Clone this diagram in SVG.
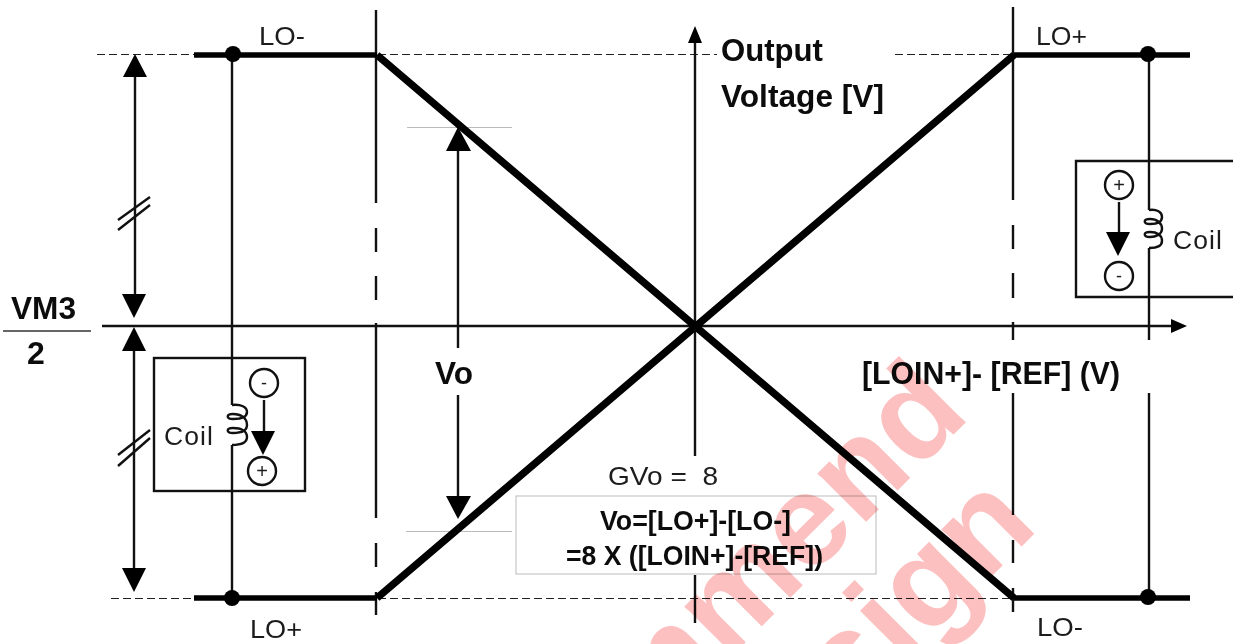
<svg xmlns="http://www.w3.org/2000/svg" width="1233" height="644" viewBox="0 0 1233 644">
<style>
text{font-family:"Liberation Sans",Arial,sans-serif;fill:#1c1c1c}
.b{font-weight:bold;fill:#0c0c0c}
.r{font-size:26.5px}
.l{fill:none;stroke:#111;stroke-width:2.4}
.t{fill:none;stroke:#000;stroke-width:5.5}
.x{fill:none;stroke:#000;stroke-width:7.5}
.d{fill:none;stroke:#222;stroke-width:1;stroke-dasharray:8 4}
.g{fill:none;stroke:#bbb;stroke-width:1}
.h{fill:#000;stroke:none}
.wm{font-family:"Liberation Sans",Arial,sans-serif;font-weight:bold;font-size:130px;fill:#fdc0c0}
</style>
<rect width="1233" height="644" fill="#fff"/>
<g id="guides">
<path class="d" d="M97 54.500H195M378 54.500H717M895 54.500H1013M111 598.500H194M378 598.500H1014"/>
<path class="g" d="M407 127.500H512M406 531.500H512"/>
</g>
<g id="axes">
<path class="l" d="M102 326H1175M695 40V456M695 575V623"/>
<path class="h" d="M1187 326L1171 319V333ZM695 26L688 43H702Z"/>
</g>
<g id="markers">
<path class="l" d="M376 10V203M376 228V252M376 276V300M376 323V518M376 543V567M376 592V615"/>
<path class="l" d="M1013 7V200M1013 225V249M1013 273V298M1013 322V340M1013 393V515M1013 540V563M1013 588V612"/>
<path class="l" d="M232 54V405M232 445V598M1149 54V210M1149 248V340M1149 393V598"/>
</g>
<g id="transfer-lines">
<path class="t" d="M194 55H377M1014 55H1190M194 598H377M1014 598H1190"/>
<path class="x" d="M377 55L1014 598M377 598L1014 55"/>
<circle class="h" cx="233" cy="54" r="8"/>
<circle class="h" cx="232" cy="598" r="8"/>
<circle class="h" cx="1148" cy="54" r="8"/>
<circle class="h" cx="1148" cy="597" r="8"/>
</g>
<g id="span-arrows">
<path class="l" d="M135 70V300M134 345V575"/>
<path class="h" d="M135 54L123 77H147ZM134 318L122 294H146ZM134 327L122 351H146ZM134 592L122 568H146Z"/>
<path class="l" d="M118 220L150 197M118 230L150 205M118 455L150 430M118 466L150 438"/>
<path class="l" d="M458 145V348M458 395V500"/>
<path class="h" d="M458 127L446 151H471ZM458 519L446 496H471Z"/>
</g>
<g id="coil-left">
<rect class="l" x="154" y="358" width="151" height="133"/>
<path class="l" d="M232 405C241 404 247 407 247 412C247 418 240 419 233 419C226 419 226 414 233 414C241 414 247 418 247 425C247 431 240 433 233 433C226 433 226 428 233 428C241 428 247 431 247 437C247 443 240 445 232 445"/>
<circle class="l" cx="264" cy="383" r="14"/>
<circle class="l" cx="262" cy="471" r="14"/>
<path class="l" d="M264 400V435"/>
<path class="h" d="M263 455L251 431H275Z"/>
<text x="264" y="389" text-anchor="middle" style="font-size:18px">-</text>
<text x="262" y="478" text-anchor="middle" style="font-size:20px">+</text>
<text class="r" x="164" y="445" textLength="49" lengthAdjust="spacing">Coil</text>
</g>
<g id="coil-right">
<path class="l" d="M1233 161H1076V297H1233"/>
<path class="l" d="M1149 210C1157 209 1162 212 1162 217C1162 223 1156 224 1150 224C1143 224 1143 219 1150 219C1157 219 1162 223 1162 229C1162 234 1156 237 1150 237C1143 237 1143 232 1150 232C1157 232 1162 235 1162 241C1162 246 1156 248 1149 248"/>
<circle class="l" cx="1119" cy="185" r="14"/>
<circle class="l" cx="1119" cy="276" r="14"/>
<path class="l" d="M1119 202V236"/>
<path class="h" d="M1118 256L1106 232H1130Z"/>
<text x="1119" y="192" text-anchor="middle" style="font-size:20px">+</text>
<text x="1119" y="282" text-anchor="middle" style="font-size:18px">-</text>
<text class="r" x="1173" y="249" textLength="49" lengthAdjust="spacing">Coil</text>
</g>
<g id="labels">
<text class="r" x="259" y="45" textLength="46" lengthAdjust="spacingAndGlyphs">LO-</text>
<text class="r" x="1036" y="45" textLength="51" lengthAdjust="spacingAndGlyphs">LO+</text>
<text class="r" x="250" y="638" textLength="52" lengthAdjust="spacingAndGlyphs">LO+</text>
<text class="r" x="1037" y="636" textLength="46" lengthAdjust="spacingAndGlyphs">LO-</text>
<text class="b" x="11" y="319" style="font-size:32px" textLength="65" lengthAdjust="spacingAndGlyphs">VM3</text>
<path d="M3 331H91" fill="none" stroke="#666" stroke-width="2"/>
<text class="b" x="27" y="364" style="font-size:32px">2</text>
<text class="b" x="721" y="61" style="font-size:31px" textLength="102" lengthAdjust="spacingAndGlyphs">Output</text>
<text class="b" x="721" y="107" style="font-size:31px" textLength="163" lengthAdjust="spacingAndGlyphs">Voltage [V]</text>
<text class="b" x="435" y="384" style="font-size:31px" textLength="38" lengthAdjust="spacingAndGlyphs">Vo</text>
<text class="b" x="862" y="384" style="font-size:31px" textLength="258" lengthAdjust="spacingAndGlyphs">[LOIN+]- [REF] (V)</text>
<text class="r" x="608" y="485" xml:space="preserve" style="white-space:pre" textLength="110" lengthAdjust="spacingAndGlyphs">GVo =  8</text>
</g>
<g id="formula">
<rect class="g" x="516" y="496" width="360" height="78"/>
<text class="b" x="600" y="530" style="font-size:27px" textLength="191" lengthAdjust="spacingAndGlyphs">Vo=[LO+]-[LO-]</text>
<text class="b" x="566" y="565" style="font-size:27px" textLength="257" lengthAdjust="spacingAndGlyphs">=8 X ([LOIN+]-[REF])</text>
</g>
<g id="watermark" style="mix-blend-mode:multiply">
<text class="wm" text-anchor="end" transform="translate(972 416) rotate(-45)">mmend</text>
<text class="wm" text-anchor="end" transform="translate(1040 528) rotate(-45)">Design</text>
</g>
</svg>
